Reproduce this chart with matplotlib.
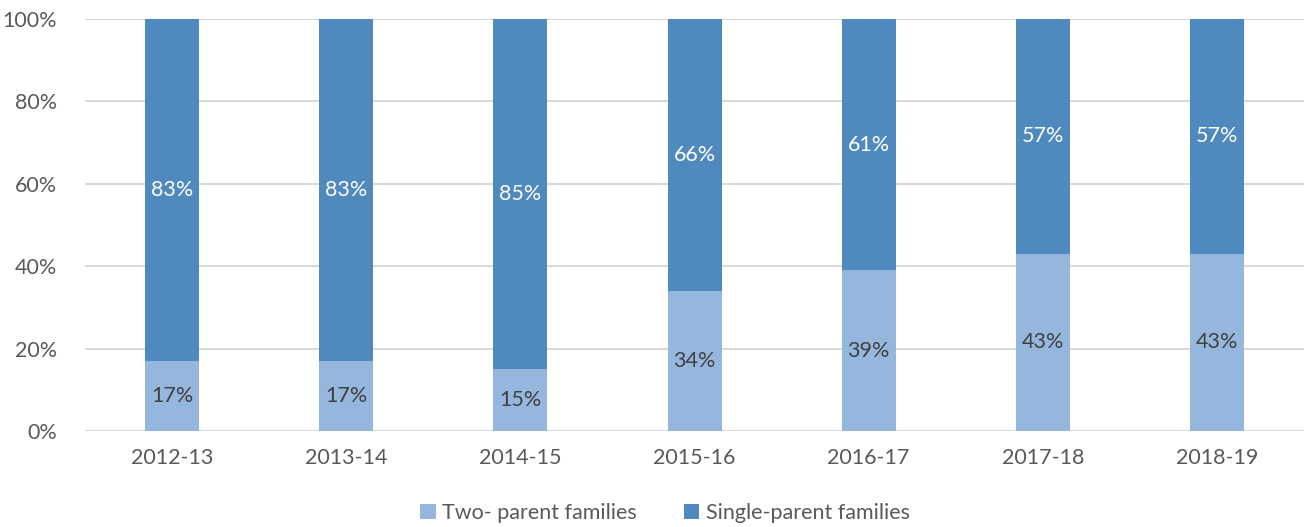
import matplotlib
matplotlib.use("Agg")
import matplotlib.pyplot as plt
import numpy as np

plt.rcParams['font.family'] = ['Lato', 'DejaVu Sans']

years = ['2012-13', '2013-14', '2014-15', '2015-16', '2016-17', '2017-18', '2018-19']
two_parent = [17, 17, 15, 34, 39, 43, 43]
single_parent = [83, 83, 85, 66, 61, 57, 57]

c_light = '#95B7DD'
c_dark = '#4F89BD'
grey = '#595959'
fs = 15.5

fig = plt.figure(figsize=(13.04, 5.27), dpi=100)
ax = fig.add_axes([0.0652, 0.182, 0.9348, 0.782])

x = np.arange(len(years))
w = 0.31
b1 = ax.bar(x, two_parent, w, color=c_light, label='Two- parent families', zorder=3)
b2 = ax.bar(x, single_parent, w, bottom=two_parent, color=c_dark, label='Single-parent families', zorder=3)

for i in range(len(years)):
    ax.text(x[i], two_parent[i] / 2, f'{two_parent[i]}%', ha='center', va='center',
            fontsize=fs, color='#404040', zorder=4)
    ax.text(x[i], two_parent[i] + single_parent[i] / 2, f'{single_parent[i]}%', ha='center',
            va='center', fontsize=fs, color='white', zorder=4)

ax.set_xlim(-0.5, len(years) - 0.5)
ax.set_ylim(0, 100)
ax.set_yticks(range(0, 101, 20))
ax.set_yticklabels([f'{v}%' for v in range(0, 101, 20)])
ax.set_xticks(x)
ax.set_xticklabels(years)
ax.tick_params(length=0, labelsize=fs, colors=grey)
ax.tick_params(axis='y', pad=20)
ax.tick_params(axis='x', pad=12)
ax.grid(axis='y', color='#D9D9D9', lw=1.5, zorder=0)
for s in ax.spines.values():
    s.set_visible(False)

leg = fig.legend(handles=[b1, b2], loc='lower center', bbox_to_anchor=(0.51, -0.03), ncol=2,
                 frameon=False, fontsize=fs, handlelength=0.7, handleheight=0.7,
                 handletextpad=0.3, columnspacing=2.2)
for t in leg.get_texts():
    t.set_color(grey)

fig.savefig('out.png', dpi=100)
